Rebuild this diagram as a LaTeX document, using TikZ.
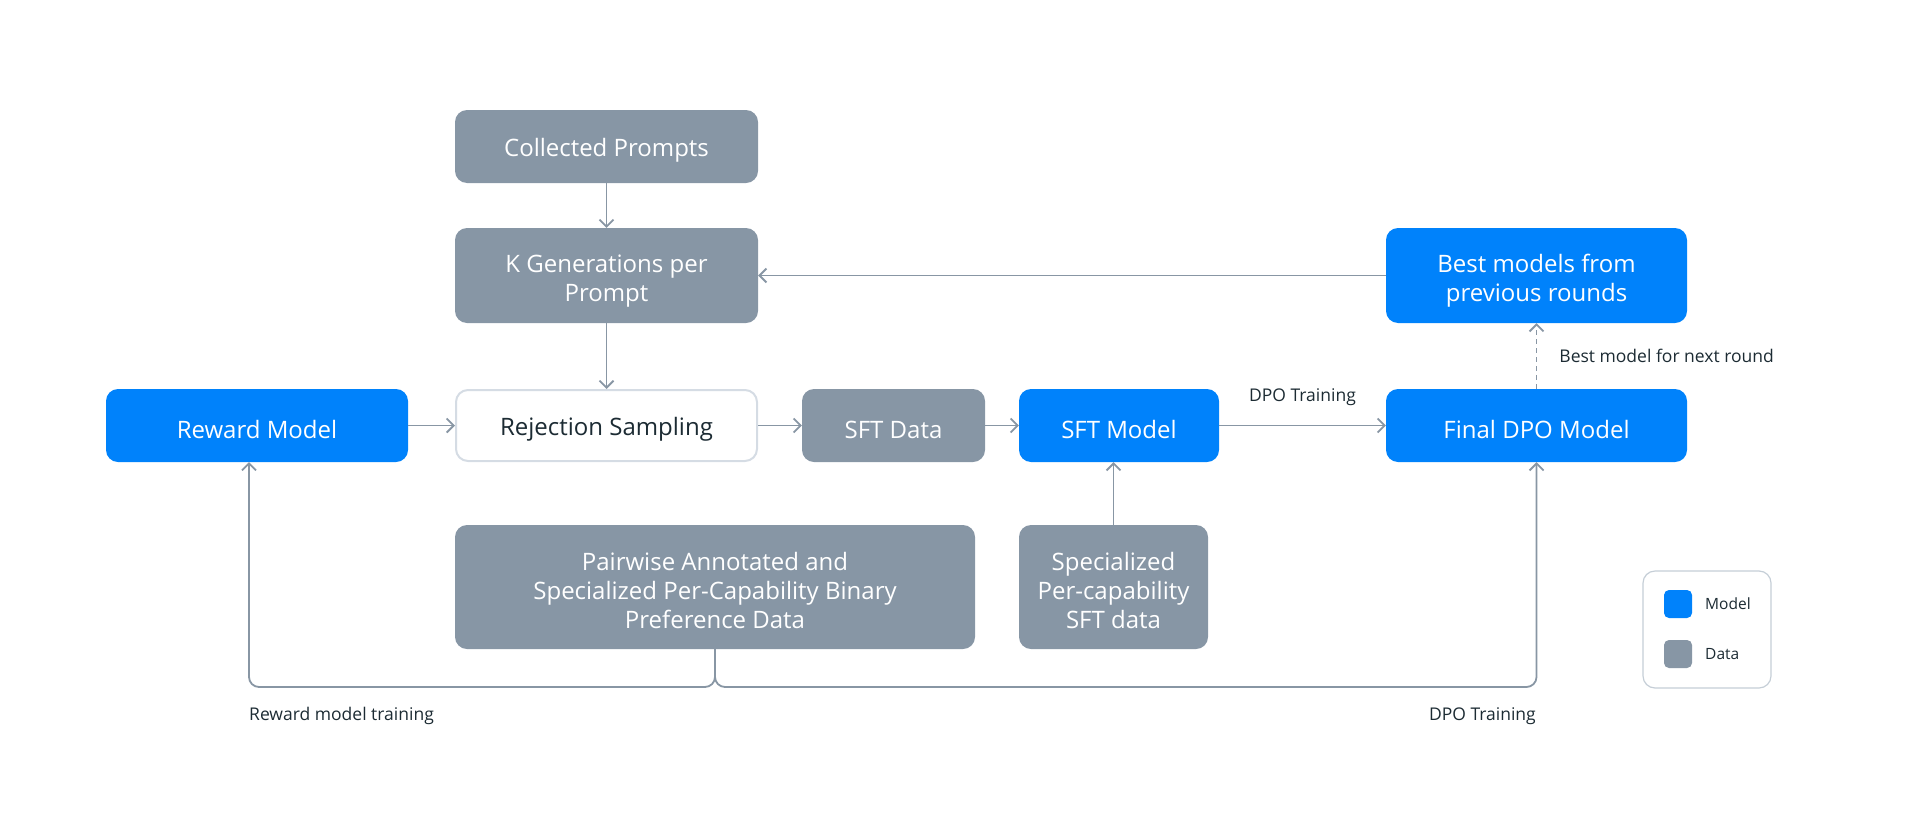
\documentclass[tikz,border=0pt]{standalone}
\usepackage{fontspec}
\setmainfont{Open Sans}
\usetikzlibrary{arrows.meta}
\definecolor{mblue}{HTML}{0082FB}
\definecolor{mgray}{HTML}{8796A5}
\definecolor{mline}{HTML}{8896A4}
\definecolor{mtext}{HTML}{1C2B33}
\definecolor{mborder}{HTML}{D5DCE4}
\newcommand\firststrut[1]{\rule{0pt}{#1}}
\tikzset{
  boxbase/.style={rounded corners=12pt, inner sep=0pt, align=center,
    font=\fontsize{24}{29}\selectfont, text=white},
  modelbox/.style={boxbase, fill=mblue},
  databox/.style={boxbase, fill=mgray},
  procbox/.style={boxbase, fill=white, draw=mborder, line width=2pt, text=mtext},
  conn/.style={draw=mline, line width=1.8pt, -{Straight Barb[length=7pt,width=14pt,line width=1.8pt]}},
  lbl/.style={font=\fontsize{17.5}{20}\selectfont, text=mtext, inner sep=0pt},
}
\begin{document}
\begin{tikzpicture}[x=1pt,y=-1pt]
\useasboundingbox (0,0) rectangle (1916,814);
\node[databox, minimum width=303pt, minimum height=73pt] (cp) at (606.5,146.5) {\firststrut{26.5pt}Collected Prompts};
\node[databox, minimum width=303pt, minimum height=95pt] (kg) at (606.5,275.5) {\firststrut{29pt}K Generations per\\Prompt};
\node[modelbox, minimum width=301pt, minimum height=95pt] (bm) at (1536.5,275.5) {\firststrut{29pt}Best models from\\previous rounds};
\node[modelbox, minimum width=302pt, minimum height=73pt] (rm) at (257,425.5) {\firststrut{26.5pt}Reward Model};
\node[procbox, minimum width=301pt, minimum height=71pt] (rs) at (606.5,425.5) {\firststrut{26.5pt}Rejection Sampling};
\node[databox, minimum width=183pt, minimum height=73pt] (sd) at (893.5,425.5) {\firststrut{26.5pt}SFT Data};
\node[modelbox, minimum width=200pt, minimum height=73pt] (sm) at (1119,425.5) {\firststrut{26.5pt}SFT Model};
\node[modelbox, minimum width=301pt, minimum height=73pt] (fd) at (1536.5,425.5) {\firststrut{26.5pt}Final DPO Model};
\node[databox, minimum width=520pt, minimum height=124pt] (pw) at (715,587) {\firststrut{26pt}Pairwise Annotated and\\Specialized Per-Capability Binary\\Preference Data};
\node[databox, minimum width=189pt, minimum height=124pt] (sp) at (1113.5,587) {\firststrut{26pt}Specialized\\Per-capability\\SFT data};

% connectors
\draw[conn] (cp) -- (kg);
\draw[conn] (kg) -- (rs);
\draw[conn] (bm) -- (kg);
\draw[conn] (rm) -- (rs);
\draw[conn] (rs) -- (sd);
\draw[conn] (sd) -- (sm);
\draw[conn] (sm) -- node[lbl, above=19pt] (dpo1) {DPO Training} (fd);
\draw[conn] (sp.north) -- (sp.north |- sm.south);
\draw[conn, dashed, dash pattern=on 5pt off 4pt] (fd) -- node[lbl, right=22pt, anchor=west] (bmn) {Best model for next round} (bm);
\coordinate (jn) at (715,687);
\coordinate (rmin) at (249,462);
\draw[conn, rounded corners=10pt] (pw.south) -- (jn) -| (rmin);
\draw[conn, rounded corners=10pt] (pw.south) -- (jn) -| (fd.south);
\node[lbl, anchor=west] (rmt) at (249,716) {Reward model training};
\node[lbl, anchor=east] (dpo2) at (1536,716) {DPO Training};

% legend
\node[draw=mborder!80!mgray, line width=1.2pt, rounded corners=12pt, fill=white, minimum width=128pt, minimum height=117pt] (lg) at (1707,629.5) {};
\node[fill=mblue, rounded corners=5pt, minimum size=28pt, inner sep=0pt] (lm) at (1678,604) {};
\node[fill=mgray, rounded corners=5pt, minimum size=28pt, inner sep=0pt] (ld) at (1678,654) {};
\node[lbl, anchor=west, font=\fontsize{15.5}{18}\selectfont] (lmt) at (1705,604) {Model};
\node[lbl, anchor=west, font=\fontsize{15.5}{18}\selectfont] (ldt) at (1705,654) {Data};
\end{tikzpicture}
\end{document}
